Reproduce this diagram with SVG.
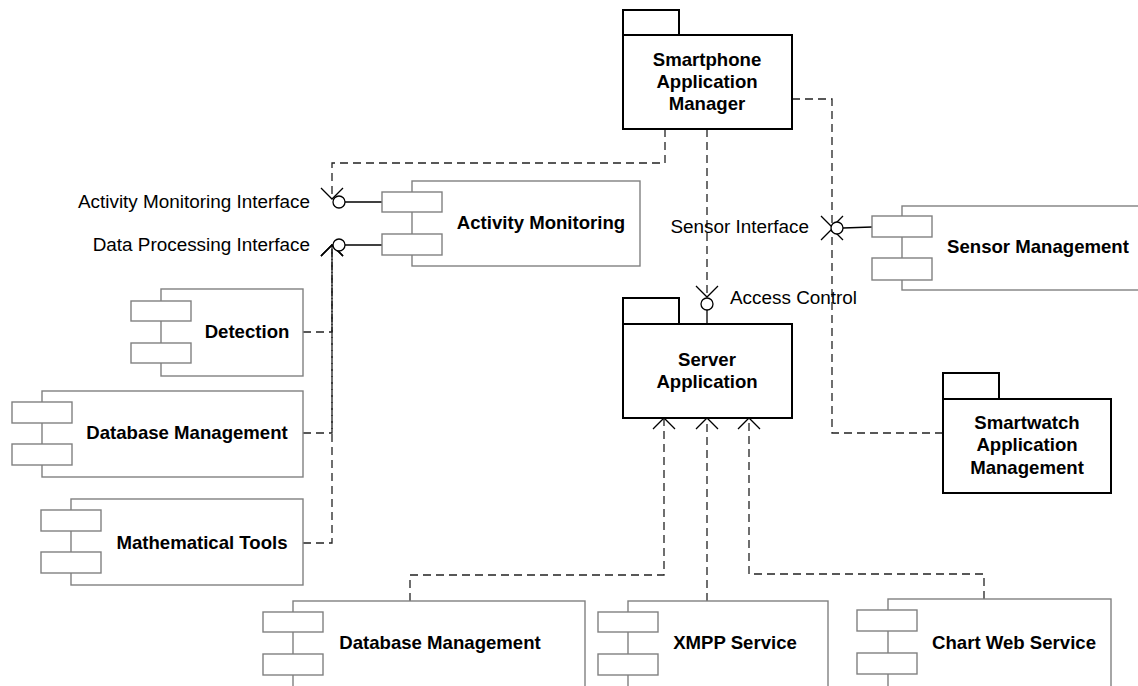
<svg xmlns="http://www.w3.org/2000/svg" width="1138" height="686" viewBox="0 0 1138 686">
<style>
.bg{fill:#fff}
.comp{fill:#fff;stroke:#808080;stroke-width:1.4}
.port{fill:#fff;stroke:#808080;stroke-width:1.4}
.pkg{fill:#fff;stroke:#000;stroke-width:2}
.bt{font-family:"Liberation Sans",Arial,sans-serif;font-weight:bold;font-size:18.6px;fill:#000;text-anchor:middle}
.lt{font-family:"Liberation Sans",Arial,sans-serif;font-size:18.9px;fill:#000}
.dep{fill:none;stroke:#222;stroke-width:1.3;stroke-dasharray:8,5;marker-end:url(#arr)}
.solid{fill:none;stroke:#000;stroke-width:1.3}
.ball{fill:#fff;stroke:#000;stroke-width:1.3}
</style>
<defs>
<marker id="arr" viewBox="-13 -13 26 26" refX="0" refY="0" markerWidth="26" markerHeight="26" orient="auto" markerUnits="userSpaceOnUse">
<path d="M-11,-11 L0,0 L-11,11" fill="none" stroke="#000" stroke-width="1.3" stroke-dasharray="none"/>
</marker>
</defs>
<rect class="bg" x="0" y="0" width="1138" height="686"/>

<g id="connectors">
<path class="dep" d="M665,129 V163 H332 V199"/>
<path class="dep" d="M303,332 H332 V245"/>
<path class="dep" d="M303,433 H332 V245"/>
<path class="dep" d="M303,543 H332 V245"/>
<path class="dep" d="M707,129 V297"/>
<path class="dep" d="M792,99 H832 V227"/>
<path class="dep" d="M943,433 H832 V229"/>
<path class="dep" d="M410,601 V575 H664 V418"/>
<path class="dep" d="M707,601 V418"/>
<path class="dep" d="M984,599 V574 H749 V418"/>
</g>

<g id="iface-activity">
<line class="solid" x1="345" y1="202" x2="382" y2="202"/>
<circle class="ball" cx="339" cy="202" r="6"/>
<text class="lt" x="310" y="208" text-anchor="end">Activity Monitoring Interface</text>
</g>
<g id="iface-dataproc">
<line class="solid" x1="345" y1="245" x2="382" y2="245"/>
<circle class="ball" cx="339" cy="245" r="6"/>
<text class="lt" x="310" y="251" text-anchor="end">Data Processing Interface</text>
</g>
<g id="iface-sensor">
<line class="solid" x1="843" y1="228" x2="872" y2="227"/>
<circle class="ball" cx="837" cy="228" r="6"/>
<text class="lt" x="809" y="233" text-anchor="end">Sensor Interface</text>
</g>
<g id="iface-access">
<line class="solid" x1="707" y1="310" x2="707" y2="324"/>
<circle class="ball" cx="707" cy="304" r="6"/>
<text class="lt" x="730" y="304">Access Control</text>
</g>

<g id="smartphone-manager">
<rect class="pkg" x="623" y="10" width="56" height="25"/>
<rect class="pkg" x="623" y="35" width="169" height="94"/>
<text class="bt" x="707" y="66">Smartphone</text>
<text class="bt" x="707" y="88">Application</text>
<text class="bt" x="707" y="110">Manager</text>
</g>

<g id="server-application">
<rect class="pkg" x="623" y="298" width="56" height="26"/>
<rect class="pkg" x="623" y="324" width="169" height="94"/>
<text class="bt" x="707" y="366">Server</text>
<text class="bt" x="707" y="388">Application</text>
</g>

<g id="smartwatch-management">
<rect class="pkg" x="943" y="373" width="56" height="26"/>
<rect class="pkg" x="943" y="399" width="168" height="94"/>
<text class="bt" x="1027" y="429">Smartwatch</text>
<text class="bt" x="1027" y="451">Application</text>
<text class="bt" x="1027" y="474">Management</text>
</g>

<g id="activity-monitoring">
<rect class="comp" x="412" y="181" width="228" height="85"/>
<rect class="port" x="382" y="192" width="60" height="20"/>
<rect class="port" x="382" y="234" width="60" height="21"/>
<text class="bt" x="541" y="229">Activity Monitoring</text>
</g>

<g id="sensor-management">
<rect class="comp" x="902" y="206" width="250" height="84"/>
<rect class="port" x="872" y="216" width="60" height="21"/>
<rect class="port" x="872" y="258" width="60" height="22"/>
<text class="bt" x="1038" y="253">Sensor Management</text>
</g>

<g id="detection">
<rect class="comp" x="161" y="289" width="142" height="87"/>
<rect class="port" x="131" y="301" width="60" height="20"/>
<rect class="port" x="131" y="343" width="60" height="20"/>
<text class="bt" x="247" y="338">Detection</text>
</g>

<g id="database-management-left">
<rect class="comp" x="42" y="391" width="261" height="86"/>
<rect class="port" x="12" y="402" width="60" height="21"/>
<rect class="port" x="12" y="444" width="60" height="21"/>
<text class="bt" x="187" y="439">Database Management</text>
</g>

<g id="mathematical-tools">
<rect class="comp" x="71" y="499" width="232" height="86"/>
<rect class="port" x="41" y="510" width="60" height="21"/>
<rect class="port" x="41" y="552" width="60" height="21"/>
<text class="bt" x="202" y="549">Mathematical Tools</text>
</g>

<g id="database-management-bottom">
<rect class="comp" x="293" y="601" width="292" height="100"/>
<rect class="port" x="263" y="612" width="60" height="20"/>
<rect class="port" x="263" y="654" width="60" height="21"/>
<text class="bt" x="440" y="649">Database Management</text>
</g>

<g id="xmpp-service">
<rect class="comp" x="628" y="601" width="200" height="100"/>
<rect class="port" x="598" y="612" width="60" height="20"/>
<rect class="port" x="598" y="654" width="60" height="21"/>
<text class="bt" x="735" y="649">XMPP Service</text>
</g>

<g id="chart-web-service">
<rect class="comp" x="888" y="599" width="223" height="100"/>
<rect class="port" x="857" y="610" width="60" height="21"/>
<rect class="port" x="857" y="653" width="60" height="21"/>
<text class="bt" x="1014" y="649">Chart Web Service</text>
</g>
</svg>
